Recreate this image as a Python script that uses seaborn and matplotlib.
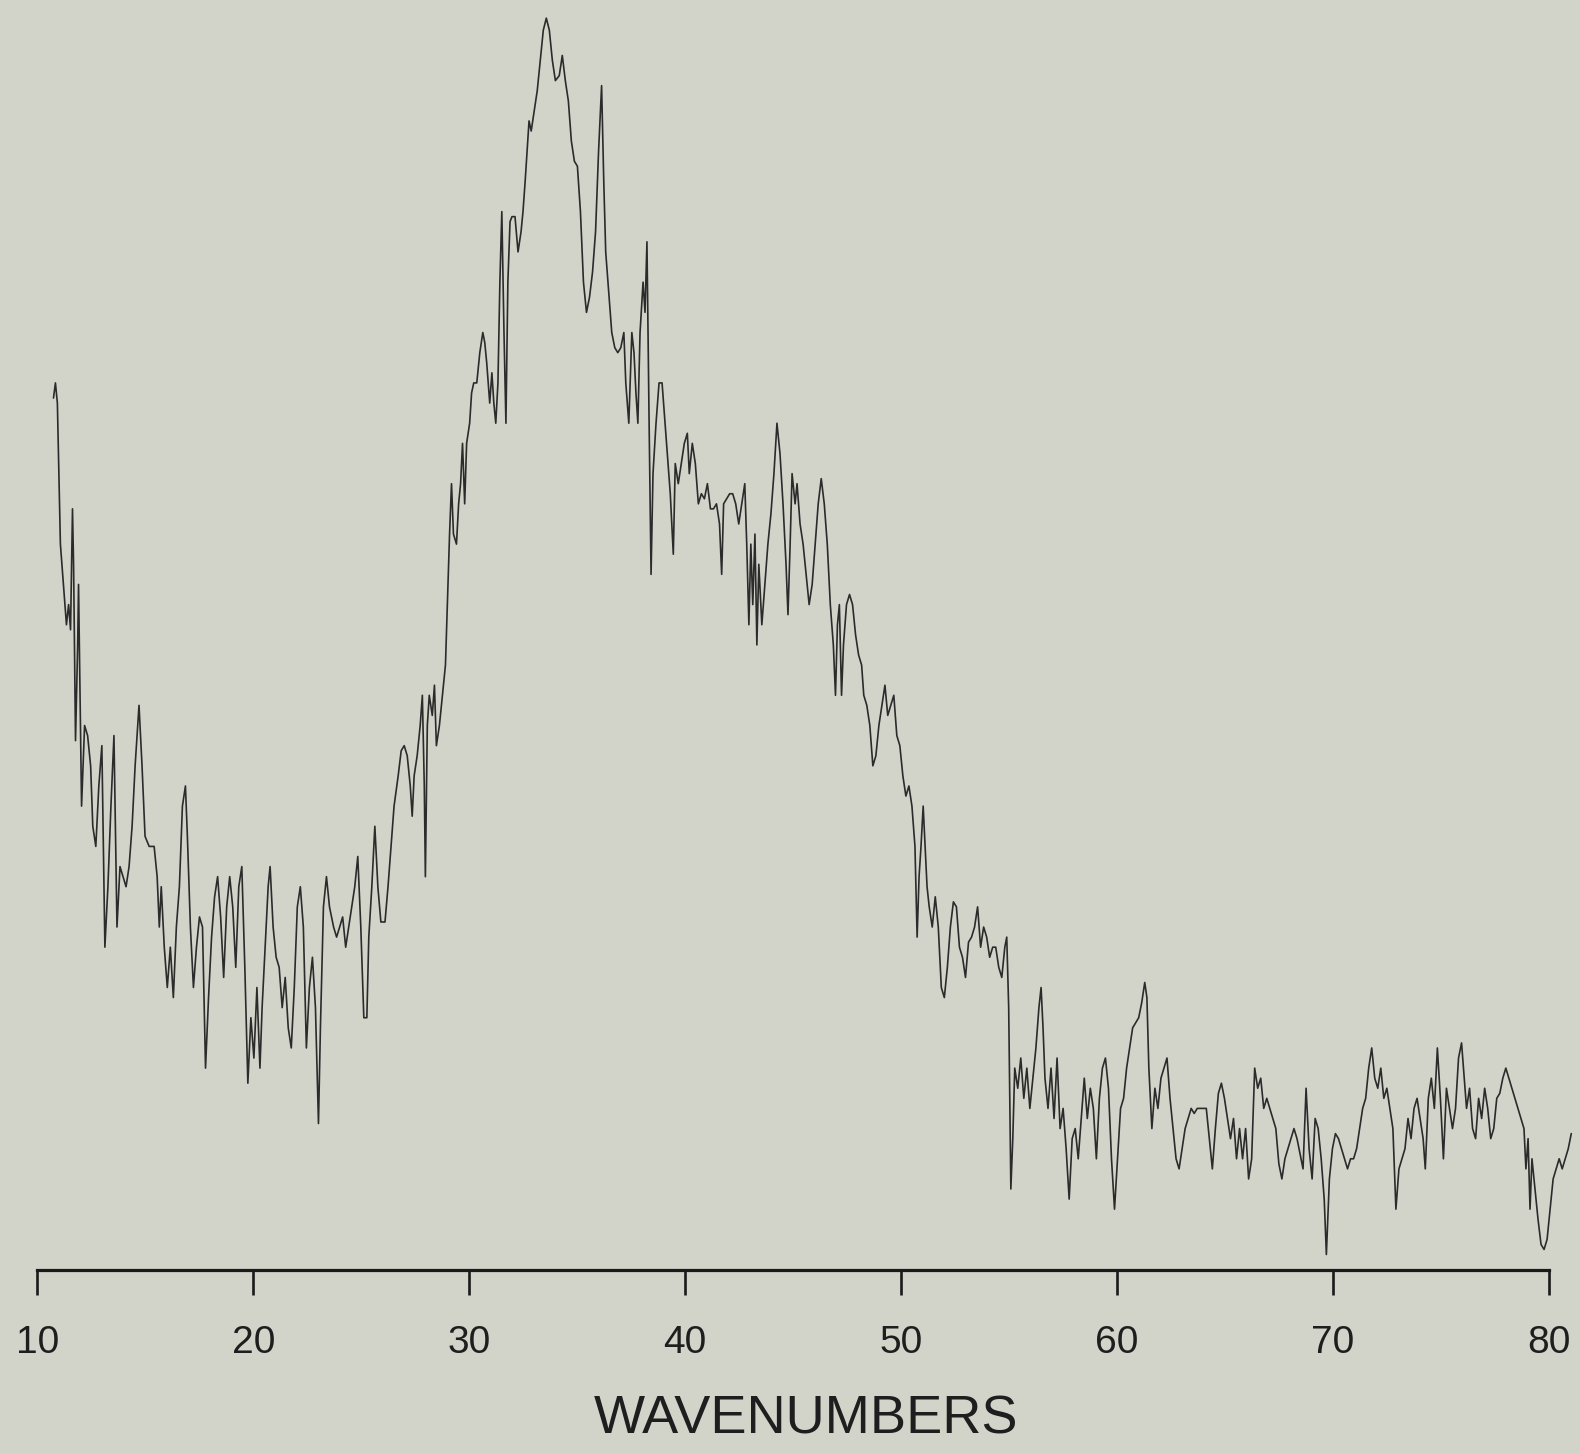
import matplotlib
matplotlib.use("Agg")
import matplotlib.pyplot as plt
import seaborn as sns
import pandas as pd

# Wavenumber readings (x) and relative intensity (arbitrary units, 0 at the axis line)
wavenumber = [
    10.75, 10.84, 10.93, 11.07, 11.21, 11.35, 11.45, 11.54, 11.63, 11.68, 11.77, 11.87, 11.91, 11.96,
    12.05, 12.19, 12.33, 12.47, 12.57, 12.71, 12.85, 12.99, 13.13, 13.27, 13.41, 13.55, 13.69, 13.83,
    13.97, 14.11, 14.25, 14.39, 14.53, 14.71, 14.85, 14.99, 15.18, 15.41, 15.55, 15.65, 15.74, 15.88,
    16.02, 16.16, 16.30, 16.44, 16.58, 16.72, 16.86, 16.95, 17.09, 17.23, 17.37, 17.51, 17.65, 17.79,
    17.93, 18.07, 18.21, 18.35, 18.49, 18.63, 18.77, 18.91, 19.05, 19.19, 19.33, 19.47, 19.61, 19.75,
    19.89, 20.03, 20.17, 20.31, 20.41, 20.55, 20.69, 20.78, 20.92, 21.06, 21.20, 21.34, 21.48, 21.62,
    21.76, 21.90, 22.04, 22.18, 22.32, 22.46, 22.60, 22.74, 22.88, 23.02, 23.11, 23.25, 23.39, 23.53,
    23.72, 23.86, 24.00, 24.14, 24.28, 24.42, 24.56, 24.70, 24.84, 24.98, 25.12, 25.26, 25.35, 25.49,
    25.63, 25.77, 25.91, 26.10, 26.24, 26.38, 26.52, 26.71, 26.85, 26.99, 27.13, 27.27, 27.36, 27.45,
    27.59, 27.73, 27.83, 27.92, 27.97, 28.06, 28.15, 28.29, 28.39, 28.48, 28.62, 28.76, 28.90, 28.99,
    29.09, 29.18, 29.27, 29.41, 29.51, 29.60, 29.69, 29.79, 29.88, 30.02, 30.11, 30.21, 30.35, 30.49,
    30.63, 30.72, 30.81, 30.95, 31.05, 31.14, 31.23, 31.33, 31.42, 31.51, 31.61, 31.70, 31.79, 31.89,
    31.98, 32.12, 32.26, 32.40, 32.49, 32.59, 32.68, 32.77, 32.87, 33.01, 33.15, 33.29, 33.43, 33.57,
    33.71, 33.85, 33.99, 34.17, 34.31, 34.45, 34.59, 34.73, 34.87, 35.01, 35.15, 35.29, 35.43, 35.57,
    35.71, 35.85, 35.99, 36.13, 36.23, 36.32, 36.46, 36.60, 36.74, 36.88, 37.02, 37.16, 37.25, 37.39,
    37.53, 37.63, 37.72, 37.81, 37.91, 38.05, 38.14, 38.23, 38.33, 38.42, 38.51, 38.65, 38.79, 38.93,
    39.07, 39.21, 39.31, 39.45, 39.54, 39.68, 39.82, 39.96, 40.10, 40.19, 40.33, 40.47, 40.61, 40.75,
    40.89, 41.03, 41.17, 41.31, 41.45, 41.59, 41.69, 41.78, 41.92, 42.06, 42.20, 42.34, 42.48, 42.62,
    42.76, 42.85, 42.95, 43.04, 43.13, 43.23, 43.32, 43.41, 43.55, 43.69, 43.83, 43.97, 44.11, 44.25,
    44.39, 44.53, 44.67, 44.76, 44.86, 44.95, 45.09, 45.18, 45.32, 45.46, 45.60, 45.74, 45.88, 46.02,
    46.16, 46.30, 46.44, 46.58, 46.72, 46.86, 46.96, 47.05, 47.14, 47.24, 47.33, 47.47, 47.61, 47.75,
    47.89, 48.03, 48.17, 48.27, 48.41, 48.55, 48.69, 48.83, 48.97, 49.11, 49.25, 49.38, 49.52, 49.66,
    49.80, 49.94, 50.08, 50.22, 50.36, 50.50, 50.64, 50.74, 50.83, 50.92, 51.02, 51.11, 51.20, 51.30,
    51.44, 51.58, 51.72, 51.86, 52.00, 52.14, 52.28, 52.42, 52.56, 52.70, 52.84, 52.98, 53.12, 53.26,
    53.40, 53.54, 53.68, 53.82, 53.96, 54.10, 54.24, 54.38, 54.52, 54.66, 54.80, 54.89, 54.98, 55.08,
    55.17, 55.26, 55.40, 55.54, 55.68, 55.82, 55.96, 56.10, 56.24, 56.38, 56.48, 56.57, 56.66, 56.80,
    56.94, 57.08, 57.22, 57.36, 57.50, 57.64, 57.78, 57.92, 58.06, 58.20, 58.34, 58.48, 58.62, 58.76,
    58.90, 59.04, 59.18, 59.32, 59.46, 59.60, 59.74, 59.88, 60.02, 60.16, 60.30, 60.44, 60.58, 60.72,
    60.86, 61.00, 61.14, 61.28, 61.38, 61.47, 61.61, 61.75, 61.89, 62.03, 62.17, 62.31, 62.45, 62.59,
    62.73, 62.87, 63.01, 63.15, 63.29, 63.43, 63.57, 63.71, 63.85, 63.99, 64.13, 64.27, 64.41, 64.55,
    64.69, 64.83, 64.97, 65.11, 65.25, 65.39, 65.53, 65.67, 65.81, 65.95, 66.09, 66.23, 66.37, 66.51,
    66.65, 66.79, 66.93, 67.07, 67.21, 67.35, 67.49, 67.63, 67.77, 67.91, 68.05, 68.19, 68.33, 68.47,
    68.61, 68.75, 68.89, 69.03, 69.17, 69.31, 69.45, 69.59, 69.69, 69.83, 69.97, 70.11, 70.25, 70.39,
    70.53, 70.67, 70.81, 70.95, 71.09, 71.23, 71.37, 71.51, 71.65, 71.79, 71.93, 72.07, 72.21, 72.35,
    72.49, 72.63, 72.77, 72.91, 73.05, 73.19, 73.33, 73.47, 73.61, 73.75, 73.89, 74.03, 74.17, 74.27,
    74.41, 74.55, 74.69, 74.83, 74.97, 75.11, 75.25, 75.39, 75.53, 75.67, 75.81, 75.95, 76.04, 76.18,
    76.32, 76.46, 76.60, 76.74, 76.88, 77.02, 77.16, 77.30, 77.44, 77.58, 77.72, 77.86, 78.00, 78.14,
    78.28, 78.42, 78.56, 78.70, 78.84, 78.93, 79.03, 79.12, 79.21, 79.35, 79.49, 79.63, 79.77, 79.91,
    80.05, 80.19, 80.33, 80.47, 80.61, 80.75, 80.89, 81.03,
]

intensity = [
    865, 880, 860, 720, 680, 640, 660, 635, 755, 700, 525, 620, 680, 600,
    460, 540, 530, 500, 440, 420, 480, 520, 320, 380, 460, 530, 340, 400,
    390, 380, 400, 440, 500, 560, 500, 430, 420, 420, 390, 340, 380, 320,
    280, 320, 270, 340, 380, 460, 480, 430, 340, 280, 320, 350, 340, 200,
    270, 330, 370, 390, 350, 290, 360, 390, 360, 300, 380, 400, 300, 185,
    250, 210, 280, 200, 260, 320, 380, 400, 340, 310, 300, 260, 290, 240,
    220, 280, 360, 380, 340, 220, 280, 310, 260, 145, 240, 360, 390, 360,
    340, 330, 340, 350, 320, 340, 360, 380, 410, 340, 250, 250, 330, 380,
    440, 380, 345, 345, 380, 420, 460, 490, 515, 520, 510, 480, 450, 490,
    510, 540, 570, 480, 390, 540, 570, 550, 580, 520, 540, 570, 600, 660,
    730, 780, 730, 720, 760, 780, 820, 760, 820, 840, 870, 880, 880, 910,
    930, 920, 900, 860, 890, 860, 840, 880, 980, 1050, 930, 840, 980, 1040,
    1045, 1045, 1010, 1030, 1050, 1080, 1110, 1140, 1130, 1150, 1170, 1200, 1230, 1242,
    1230, 1200, 1180, 1185, 1205, 1180, 1160, 1120, 1100, 1095, 1050, 980, 950, 965,
    990, 1030, 1110, 1175, 1080, 1010, 970, 930, 915, 910, 915, 930, 880, 840,
    930, 910, 870, 840, 930, 980, 950, 1020, 840, 690, 790, 840, 880, 880,
    840, 800, 770, 710, 800, 780, 800, 820, 830, 790, 820, 800, 760, 770,
    765, 780, 755, 755, 760, 740, 690, 760, 765, 770, 770, 760, 740, 760,
    780, 720, 640, 720, 660, 730, 620, 700, 640, 680, 720, 750, 790, 840,
    810, 760, 700, 650, 720, 790, 760, 780, 740, 720, 690, 660, 680, 720,
    760, 785, 760, 720, 660, 620, 570, 640, 660, 570, 620, 660, 670, 660,
    630, 610, 600, 570, 560, 540, 500, 510, 540, 560, 580, 550, 560, 570,
    530, 520, 490, 470, 480, 460, 420, 330, 390, 420, 460, 420, 380, 360,
    340, 370, 340, 280, 270, 300, 340, 365, 360, 320, 310, 290, 325, 330,
    340, 360, 320, 340, 330, 310, 320, 320, 300, 290, 320, 330, 260, 80,
    130, 200, 180, 210, 170, 200, 160, 190, 220, 260, 280, 240, 190, 160,
    200, 150, 210, 140, 160, 120, 70, 130, 140, 110, 150, 190, 150, 180,
    160, 110, 170, 200, 210, 180, 110, 60, 110, 160, 170, 200, 220, 240,
    245, 250, 265, 285, 270, 200, 140, 180, 160, 190, 200, 210, 170, 140,
    110, 100, 120, 140, 150, 160, 155, 160, 160, 160, 160, 130, 100, 140,
    175, 185, 170, 150, 130, 150, 110, 140, 110, 140, 90, 110, 200, 180,
    190, 160, 170, 160, 150, 140, 105, 90, 110, 120, 130, 140, 130, 115,
    100, 180, 120, 90, 150, 140, 110, 70, 15, 90, 120, 135, 130, 120,
    110, 100, 110, 110, 120, 140, 160, 170, 200, 220, 190, 180, 200, 170,
    180, 160, 140, 60, 100, 110, 120, 150, 130, 160, 170, 150, 130, 100,
    170, 190, 160, 220, 170, 110, 180, 160, 140, 160, 210, 225, 200, 160,
    180, 140, 130, 170, 150, 180, 160, 130, 140, 170, 175, 190, 200, 190,
    180, 170, 160, 150, 140, 100, 130, 60, 110, 80, 50, 25, 20, 30,
    60, 90, 100, 110, 100, 110, 120, 135,
]

tick_values = [10, 20, 30, 40, 50, 60, 70, 80]
tick_labels = ["10", "20", "30", "40", "50", "60", "70", "80"]
x_label = "WAVENUMBERS"

df = pd.DataFrame({"wavenumber": wavenumber, "intensity": intensity})

bg = "#d2d4ca"
sns.set_theme(style="white")
plt.rcParams["font.family"] = ["Liberation Sans", "DejaVu Sans"]

fig = plt.figure(figsize=(15.8, 14.53), dpi=100, facecolor=bg)
ax = fig.add_axes([0.0236, 0.1262, 0.9732, 0.8738])
ax.set_facecolor(bg)

sns.lineplot(data=df, x="wavenumber", y="intensity", sort=False, estimator=None,
             color="#2b2b2b", linewidth=1.2, ax=ax)

ax.set_xlim(10, 81.2)
ax.set_ylim(0, 1260)

for side in ["top", "right", "left"]:
    ax.spines[side].set_visible(False)
ax.spines["bottom"].set_bounds(10, 80)
ax.spines["bottom"].set_linewidth(2.3)
ax.spines["bottom"].set_color("#1a1a1a")

ax.set_xticks(tick_values)
ax.set_xticklabels(tick_labels)
ax.set_yticks([])
ax.tick_params(axis="x", direction="out", length=18, width=1.9, color="#1a1a1a",
               labelsize=28, labelcolor="#1e1e1e", pad=22, bottom=True)
ax.set_xlabel(x_label, fontsize=39, color="#1e1e1e", labelpad=24)
ax.set_ylabel("")
ax.grid(False)

fig.savefig("out.png", dpi=100, facecolor=bg)
